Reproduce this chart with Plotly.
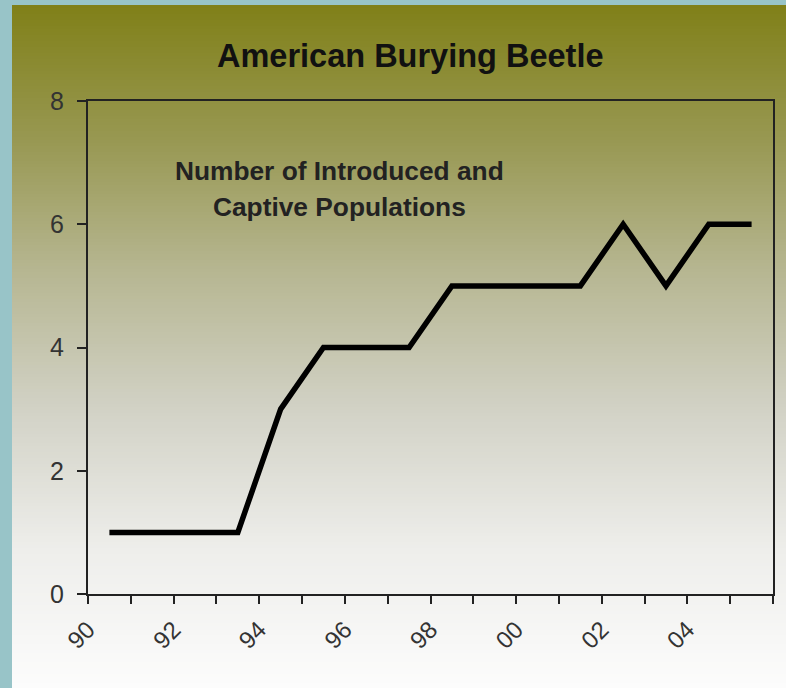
import plotly.graph_objects as go

years = ["90", "91", "92", "93", "94", "95", "96", "97", "98", "99", "00", "01", "02", "03", "04", "05"]
populations = [1, 1, 1, 1, 3, 4, 4, 4, 5, 5, 5, 5, 6, 5, 6, 6]
tick_labels = ["90", "92", "94", "96", "98", "00", "02", "04"]
y_ticks = [0, 2, 4, 6, 8]

W, H = 786, 688
L, R, T, B = 88, 773, 101, 594
pw, ph = R - L, B - T

# points sit between tick marks (category centres)
xs = [i + 0.5 for i in range(len(years))]

fig = go.Figure()
fig.add_trace(go.Scatter(x=xs, y=populations, mode="lines",
                         line=dict(color="black", width=5.5), hoverinfo="skip"))

# gradient background strips
stops = [(5, (128, 128, 24)), (140, (152, 152, 82)), (270, (182, 182, 145)),
         (410, (210, 210, 198)), (550, (238, 238, 235)), (688, (252, 252, 252))]

def col(py):
    for (y0, c0), (y1, c1) in zip(stops[:-1], stops[1:]):
        if y0 <= py <= y1:
            f = (py - y0) / (y1 - y0)
            return "rgb(%d,%d,%d)" % tuple(round(a + (b - a) * f) for a, b in zip(c0, c1))
    return "rgb(252,252,252)"

shapes = []
step = 3
py = 5
while py < H:
    y2 = min(py + step, H)
    shapes.append(dict(type="rect", xref="paper", yref="paper",
                       x0=(12 - L) / pw, x1=(W - L) / pw,
                       y0=(B - y2) / ph, y1=(B - py) / ph,
                       fillcolor=col(py + step / 2), line=dict(width=0), layer="below"))
    py = y2

fig.update_layout(
    width=W, height=H,
    margin=dict(l=L, r=W - R, t=T, b=H - B),
    paper_bgcolor="#98C4C8",
    plot_bgcolor="rgba(0,0,0,0)",
    showlegend=False,
    shapes=shapes,
    font=dict(family="Liberation Sans, Arial, sans-serif", color="#222222"),
    xaxis=dict(range=[0, 16], tickmode="array",
               tickvals=list(range(0, 17)),
               ticktext=[tick_labels[i // 2] if i % 2 == 0 and i // 2 < len(tick_labels) else "" for i in range(17)],
               ticks="outside", ticklen=8, tickwidth=2, tickcolor="#222",
               showline=True, linecolor="#222", linewidth=2, mirror=True,
               showgrid=False, zeroline=False, tickangle=-45,
               ticklabelstandoff=2,
               tickfont=dict(size=24, color="#333")),
    yaxis=dict(range=[0, 8], tickvals=y_ticks,
               ticks="outside", ticklen=9, tickwidth=2, tickcolor="#222",
               showline=True, linecolor="#222", linewidth=2, mirror=True,
               showgrid=False, zeroline=False,
               ticklabelstandoff=8,
               tickfont=dict(size=25, color="#333")),
    annotations=[
        dict(text="<b>American Burying Beetle</b>", xref="paper", yref="paper",
             x=(410 - L) / pw, y=(B - 56) / ph, xanchor="center", yanchor="middle",
             showarrow=False, font=dict(size=32.5, color="#111")),
        dict(text="<b>Number of Introduced and</b>", xref="paper", yref="paper",
             x=(339 - L) / pw, y=(B - 171) / ph, xanchor="center", yanchor="middle",
             showarrow=False, font=dict(size=26.3, color="#222")),
        dict(text="<b>Captive Populations</b>", xref="paper", yref="paper",
             x=(339 - L) / pw, y=(B - 207) / ph, xanchor="center", yanchor="middle",
             showarrow=False, font=dict(size=26.3, color="#222")),
    ],
)

fig.write_html("out.html", config={"displayModeBar": False},
               post_script="document.body.style.margin='0';document.body.style.overflow='hidden';")
